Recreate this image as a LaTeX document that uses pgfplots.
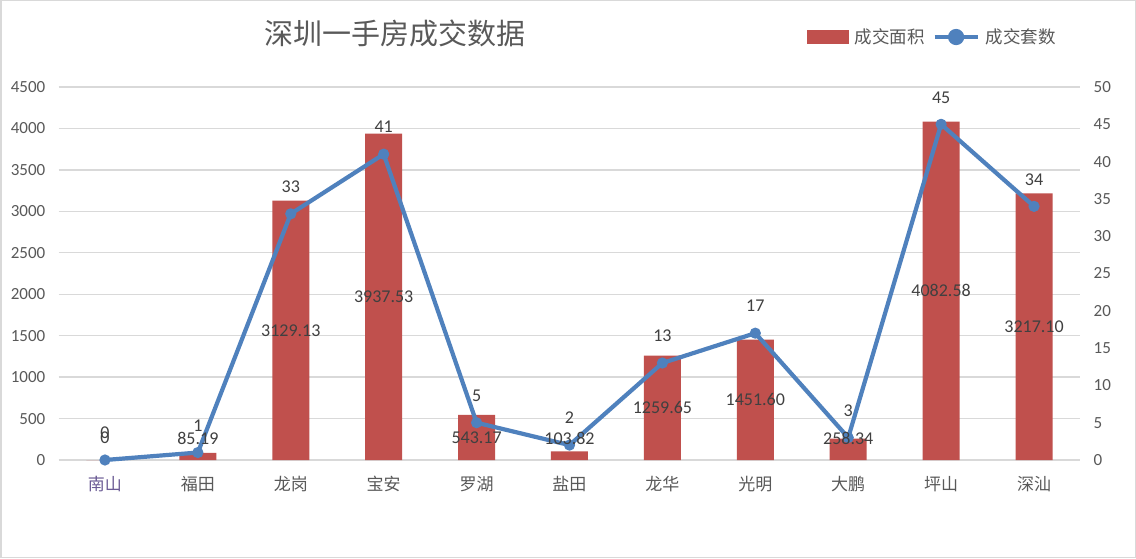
\documentclass[border=0pt]{standalone}
\usepackage{fontspec}
\setmainfont{Carlito}
\newfontfamily\cjk{Noto Sans CJK SC}
\usepackage{pgfplots}
\pgfplotsset{compat=1.18}
\definecolor{barred}{HTML}{C0504D}
\definecolor{lineblue}{HTML}{4F81BD}
\definecolor{gridgray}{HTML}{D9D9D9}
\definecolor{txt}{HTML}{595959}
\definecolor{lab}{HTML}{404040}
\definecolor{nanshan}{HTML}{6B5B95}

\pgfplotsset{
  base/.style={
    at={(58.5pt,98pt)}, anchor=south west,
    scale only axis, width=1022pt, height=373pt,
    xmin=-0.5, xmax=10.5,
    axis line style={draw=none},
    major tick length=0pt,
    tick style={draw=none},
    tick label style={font=\fontsize{17}{20}\selectfont, text=txt, inner sep=0pt},
    /pgf/number format/assume math mode=true,
    /pgf/number format/1000 sep={},
  }
}

\begin{document}
\begin{tikzpicture}
\fill[white] (0pt,0pt) rectangle (1136pt,558pt);
\draw[gridgray, line width=1.5pt] (0.75pt,0.75pt) rectangle (1135.25pt,557.25pt);
\node[font=\cjk\fontsize{29}{34}\selectfont, text=txt] at (395pt,525pt) {深圳一手房成交数据};

% bars
\begin{axis}[base,
  ymin=0, ymax=4500, ytick={0,500,...,4500},
  ymajorgrids, grid style={gridgray, line width=1.3pt},
  yticklabel style={anchor=east, xshift=-13pt},
  xtick={0,...,10},
  xticklabels={\textcolor{nanshan}{南山},福田,龙岗,宝安,罗湖,盐田,龙华,光明,大鹏,坪山,深汕},
  xticklabel style={font=\cjk\fontsize{17}{20}\selectfont, anchor=center, yshift=-24pt},
]
\addplot[ybar, bar width=37pt, fill=barred, draw=none] coordinates {
(0,0) (1,85.19) (2,3129.13) (3,3937.53) (4,543.17) (5,103.82) (6,1259.65) (7,1451.60) (8,258.34) (9,4082.58) (10,3217.10)};
\end{axis}

% line
\begin{axis}[base, clip=false,
  ymin=0, ymax=50, ytick={0,5,...,50},
  yticklabel pos=right,
  yticklabel style={anchor=west, xshift=13pt},
  xtick=\empty,
  legend style={at={(0.7324,1.134)}, anchor=west, draw=none, fill=none, inner sep=0pt,
    font=\cjk\fontsize{17.5}{20}\selectfont, text=txt,
    nodes={inner sep=0pt},
    /tikz/every odd column/.append style={column sep=6pt},
    /tikz/every even column/.append style={column sep=8pt}},
  legend columns=2,
]
\addlegendimage{legend image code/.code={\fill[barred] (0pt,-6.5pt) rectangle (41pt,6.5pt);}}
\addlegendentry{成交面积}
\addplot[lineblue, line width=4.2pt, line join=round,
  mark=*, mark size=5pt, mark options={fill=lineblue, draw=lineblue, line width=1.2pt},
  legend image code/.code={\draw[lineblue,line width=4pt] (0pt,0pt) -- (43pt,0pt); \fill[lineblue] (21.5pt,0pt) circle (6pt);},
  nodes near coords,
  every node near coord/.append style={anchor=center, yshift=27pt, font=\fontsize{18}{21}\selectfont, text=lab, inner sep=0pt},
] coordinates {
(0,0) (1,1) (2,33) (3,41) (4,5) (5,2) (6,13) (7,17) (8,3) (9,45) (10,34)};
\addlegendentry{成交套数}
\end{axis}

% bar value labels
\begin{axis}[base, clip=false, ymin=0, ymax=4500, xtick=\empty, ytick=\empty]
\addplot[draw=none, mark=none, nodes near coords, point meta=explicit symbolic,
  every node near coord/.append style={anchor=center, font=\fontsize{18}{21}\selectfont, text=lab, inner sep=0pt}]
  table[meta=lab] {
x y lab
0 265 0
1 265 85.19
2 1564.6 3129.13
3 1968.8 3937.53
4 271.6 543.17
5 265 103.82
6 629.8 1259.65
7 725.8 1451.60
8 265 258.34
9 2041.3 4082.58
10 1608.6 3217.10
};
\end{axis}
\end{tikzpicture}
\end{document}
